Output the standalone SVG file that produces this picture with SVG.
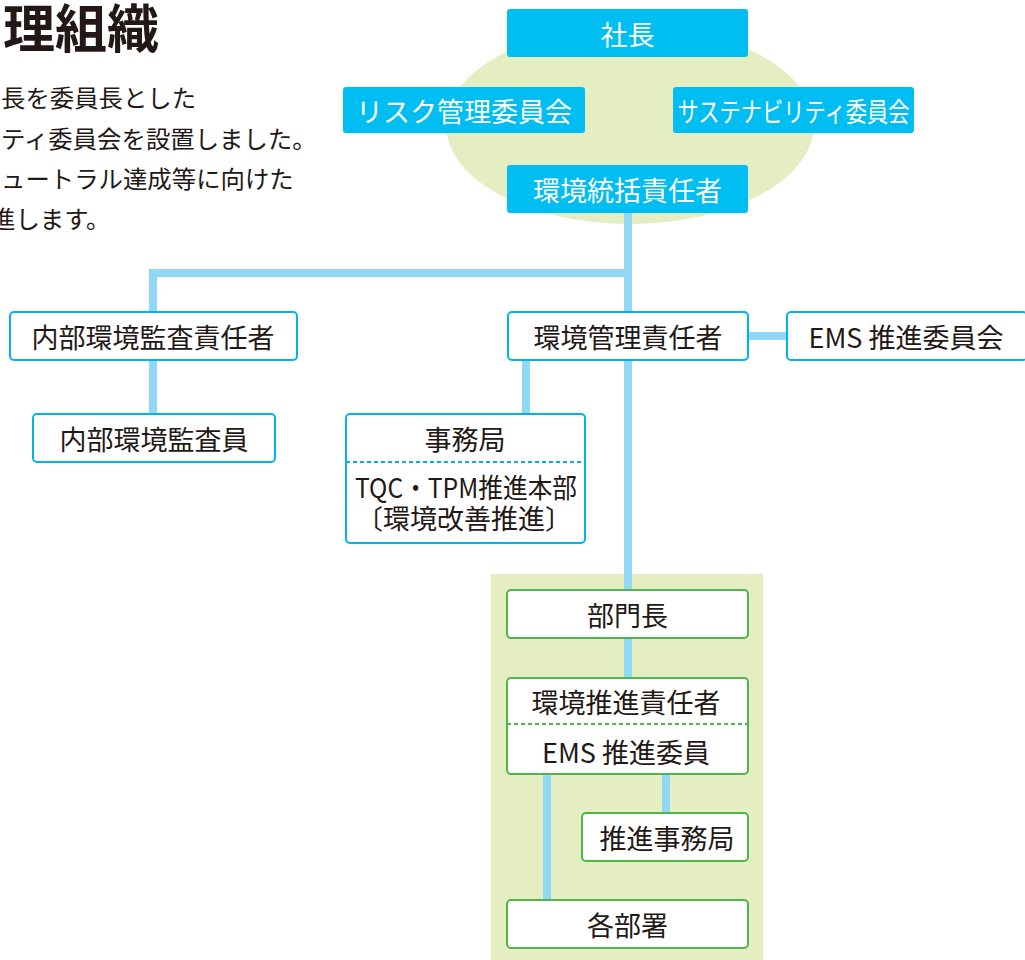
<svg xmlns="http://www.w3.org/2000/svg" width="1025" height="960" viewBox="0 0 1025 960">
<style>
text{font-family:"Noto Sans CJK JP","Noto Sans",sans-serif;}
.dark{fill:#231815;}
.wt{fill:#ffffff;font-size:27px;text-anchor:middle;dominant-baseline:central;}
.bt{fill:#231815;font-size:27px;text-anchor:middle;dominant-baseline:central;}
.body{fill:#231815;font-size:24.4px;dominant-baseline:central;}
.solid{fill:#00bdf2;}
.bbox{fill:#ffffff;stroke:#00b4ea;stroke-width:2;}
.gbox{fill:#ffffff;stroke:#4db848;stroke-width:2;}
.conn{stroke:#91d7f6;stroke-width:8;fill:none;}
</style>
<rect x="0" y="0" width="1025" height="960" fill="#ffffff"/>
<g id="intro">
<text x="3" y="25" class="dark" font-size="52" font-weight="bold" dominant-baseline="central">理組織</text>
<text x="1" y="96" class="body">長を委員長とした</text>
<text x="1" y="137" class="body">ティ委員会を設置しました。</text>
<text x="1" y="177" class="body">ュートラル達成等に向けた</text>
<text x="-9" y="217" class="body">進します。</text>
</g>
<ellipse id="committee-area" cx="630" cy="125" rx="184" ry="99" fill="#e5edc3"/>
<rect id="department-area" x="491" y="574" width="272" height="386" fill="#e5edc3"/>
<g id="connectors">
<path class="conn" d="M628 213 V589"/>
<path class="conn" d="M153 311 V273 H632"/>
<path class="conn" d="M153 360 V413"/>
<path class="conn" d="M526 360 V413"/>
<path class="conn" d="M748 336 H787" stroke-width="9"/>
<path class="conn" d="M628 638 V677"/>
<path class="conn" d="M547 774 V899"/>
<path class="conn" d="M666 774 V812"/>
</g>
<g id="president">
<rect class="solid" x="507" y="9" width="241" height="48" rx="3"/>
<text class="wt" x="627.5" y="33">社長</text>
</g>
<g id="risk-committee">
<rect class="solid" x="343" y="87" width="242" height="46" rx="3"/>
<text class="wt" x="464" y="110">リスク管理委員会</text>
</g>
<g id="sustainability-committee">
<rect class="solid" x="673" y="87" width="241" height="46" rx="3"/>
<text class="wt" x="793.5" y="110" font-size="25" textLength="232" lengthAdjust="spacingAndGlyphs">サステナビリティ委員会</text>
</g>
<g id="env-general-manager">
<rect class="solid" x="507" y="165" width="241" height="48" rx="3"/>
<text class="wt" x="627.5" y="189">環境統括責任者</text>
</g>
<g id="internal-audit-manager">
<rect class="bbox" x="10" y="312" width="287" height="48" rx="4"/>
<text class="bt" x="153" y="336">内部環境監査責任者</text>
</g>
<g id="internal-auditor">
<rect class="bbox" x="33" y="414" width="242" height="48" rx="4"/>
<text class="bt" x="154" y="438">内部環境監査員</text>
</g>
<g id="env-manager">
<rect class="bbox" x="508" y="312" width="240" height="48" rx="4"/>
<text class="bt" x="628" y="336">環境管理責任者</text>
</g>
<g id="ems-committee">
<rect class="bbox" x="787" y="312" width="240" height="48" rx="4"/>
<text class="bt" x="906" y="336">EMS 推進委員会</text>
</g>
<g id="secretariat">
<rect class="bbox" x="346" y="414" width="239" height="129" rx="4"/>
<line x1="346" y1="462" x2="585" y2="462" stroke="#00b4ea" stroke-width="2" stroke-dasharray="4 3"/>
<text class="bt" x="465" y="438">事務局</text>
<text class="bt" x="466" y="486" font-size="24" textLength="222" lengthAdjust="spacingAndGlyphs">TQC・TPM推進本部</text>
<text class="bt" x="464" y="517" font-size="24">〔環境改善推進〕</text>
</g>
<g id="department-head">
<rect class="gbox" x="507" y="590" width="241" height="48" rx="4"/>
<text class="bt" x="627.5" y="614">部門長</text>
</g>
<g id="env-promotion-manager">
<rect class="gbox" x="507" y="678" width="241" height="96" rx="4"/>
<line x1="507" y1="724" x2="748" y2="724" stroke="#4db848" stroke-width="2" stroke-dasharray="4 3"/>
<text class="bt" x="626" y="701">環境推進責任者</text>
<text class="bt" x="626" y="751">EMS 推進委員</text>
</g>
<g id="promotion-secretariat">
<rect class="gbox" x="582" y="813" width="166" height="48" rx="4"/>
<text class="bt" x="667" y="837">推進事務局</text>
</g>
<g id="departments">
<rect class="gbox" x="507" y="900" width="241" height="48" rx="4"/>
<text class="bt" x="627.5" y="924">各部署</text>
</g>
</svg>
